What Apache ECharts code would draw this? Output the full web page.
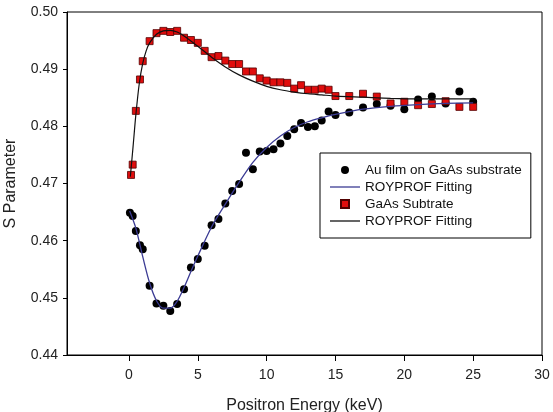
<!DOCTYPE html>
<html>
<head>
<meta charset="utf-8">
<script src="https://cdn.jsdelivr.net/npm/echarts@6/dist/echarts.min.js"></script>
<style>
  html, body { margin: 0; padding: 0; background: #fff; }
  #chart-container { width: 553px; height: 412px; }
</style>
</head>
<body>
<div id="chart-container"></div>
<script>
// Au film on GaAs substrate (measured)
var auEnergy = [0.07, 0.27, 0.5, 0.8, 1.0, 1.5, 2.0, 2.5, 3.0, 3.5, 4.0, 4.5, 5.0, 5.5, 6.0, 6.5, 7.0, 7.5, 8.0, 8.5, 9.0, 9.5, 10.0, 10.5, 11.0, 11.5, 12.0, 12.5, 13.0, 13.5, 14.0, 14.5, 15, 16, 17, 18, 19, 20, 21, 22, 23, 24, 25];
var auS = [0.4649, 0.4643, 0.4617, 0.4592, 0.4585, 0.4521, 0.4490, 0.4486, 0.4477, 0.4489, 0.4515, 0.4553, 0.4568, 0.4591, 0.4627, 0.4638, 0.4665, 0.4687, 0.4699, 0.4754, 0.4725, 0.4756, 0.4757, 0.4760, 0.4770, 0.4783, 0.4795, 0.4806, 0.4799, 0.4800, 0.4810, 0.4826, 0.4820, 0.4824, 0.4833, 0.4839, 0.4836, 0.4830, 0.4847, 0.4852, 0.4840, 0.4861, 0.4843];

// ROYPROF fit for the Au film
var auFitEnergy = [0.05, 0.5, 1.0, 1.5, 2.0, 2.5, 3.0, 3.5, 4.0, 4.5, 5.0, 6, 7, 8, 9, 10, 11, 12, 13, 14, 15, 17, 19, 21, 23, 25];
var auFitS = [0.4652, 0.4622, 0.4572, 0.4526, 0.4495, 0.4482, 0.4482, 0.4494, 0.4518, 0.4546, 0.4573, 0.4624, 0.4664, 0.4702, 0.4737, 0.4763, 0.4783, 0.4798, 0.4808, 0.4815, 0.4821, 0.4830, 0.4835, 0.4838, 0.4840, 0.4841];

// GaAs substrate (measured)
var gaasEnergy = [0.15, 0.27, 0.5, 0.8, 1.0, 1.5, 2.0, 2.5, 3.0, 3.5, 4.0, 4.5, 5.0, 5.5, 6.0, 6.5, 7.0, 7.5, 8.0, 8.5, 9.0, 9.5, 10.0, 10.5, 11.0, 11.5, 12.0, 12.5, 13.0, 13.5, 14.0, 14.5, 15, 16, 17, 18, 19, 20, 21, 22, 23, 24, 25];
var gaasS = [0.4715, 0.4733, 0.4827, 0.4882, 0.4914, 0.4949, 0.4963, 0.4967, 0.4965, 0.4967, 0.4955, 0.4951, 0.4946, 0.4932, 0.4921, 0.4923, 0.4915, 0.4909, 0.4909, 0.4896, 0.4896, 0.4884, 0.4880, 0.4877, 0.4877, 0.4876, 0.4866, 0.4872, 0.4864, 0.4864, 0.4866, 0.4864, 0.4853, 0.4853, 0.4857, 0.4852, 0.4840, 0.4843, 0.4837, 0.4839, 0.4844, 0.4834, 0.4834];

// ROYPROF fit for GaAs
var gaasFitEnergy = [0.1, 0.3, 0.5, 0.75, 1.0, 1.25, 1.5, 2.0, 2.5, 3.0, 3.5, 4, 5, 6, 7, 8, 9, 10, 11, 12, 13, 14, 15, 17, 19, 21, 23, 25];
var gaasFitS = [0.4712, 0.4765, 0.4820, 0.4875, 0.4910, 0.4932, 0.4946, 0.4961, 0.4967, 0.4968, 0.4965, 0.4958, 0.4940, 0.4921, 0.4904, 0.4890, 0.4879, 0.4870, 0.4864, 0.4860, 0.4857, 0.4855, 0.4853, 0.4851, 0.4849, 0.4848, 0.4848, 0.4848];

var xTicks = [0, 5, 10, 15, 20, 25, 30];

function pairs(xs, ys) {
    return xs.map(function (x, i) { return [x, ys[i]]; });
}

var myChart = echarts.init(document.getElementById('chart-container'));
var font = 'Liberation Sans, Arial, sans-serif';
// legend icons: a thin bar for the fits, a square for the GaAs points
var lineIcon = 'path://M0,0h30v1.3h-30z';
var squareIcon = 'path://M0,0h10v10h-10z';

var option = {
    backgroundColor: '#fff',
    animation: false,
    grid: {
        left: 67, right: 11, top: 12, bottom: 57,
        outerBoundsMode: 'none',
        show: true, borderColor: '#000', borderWidth: 1
    },
    legend: {
        orient: 'vertical',
        left: 320, top: 153,
        padding: [10, 9, 10, 10],
        itemWidth: 30, itemHeight: 8, itemGap: 3,
        borderColor: '#000', borderWidth: 1,
        backgroundColor: '#fff',
        textStyle: { fontFamily: font, fontSize: 13.5, color: '#111', lineHeight: 14 },
        data: [
            { name: 'Au film on GaAs substrate', icon: 'circle' },
            { name: 'ROYPROF Fitting', icon: lineIcon },
            { name: 'GaAs Subtrate', icon: squareIcon },
            { name: 'ROYPROF Fitting ', icon: lineIcon }
        ]
    },
    xAxis: {
        type: 'value', min: -4.5, max: 30,
        name: 'Positron Energy (keV)', nameLocation: 'middle', nameGap: 43,
        nameTextStyle: { fontFamily: font, fontSize: 16, color: '#222' },
        axisLine: { onZero: false, lineStyle: { color: '#000', width: 1 } },
        axisTick: { customValues: xTicks, length: 6, lineStyle: { color: '#000' } },
        axisLabel: { customValues: xTicks, margin: 13, fontFamily: font, fontSize: 14, color: '#222' },
        splitLine: { show: false }
    },
    yAxis: {
        type: 'value', min: 0.44, max: 0.50, interval: 0.01,
        name: 'S Parameter', nameLocation: 'middle', nameGap: 48,
        nameTextStyle: { fontFamily: font, fontSize: 16, color: '#222' },
        axisLine: { show: true, onZero: false, lineStyle: { color: '#000', width: 1 } },
        axisTick: { show: true, length: 4, lineStyle: { color: '#000' } },
        axisLabel: {
            margin: 9, fontFamily: font, fontSize: 14, color: '#222',
            formatter: function (v) { return v.toFixed(2); }
        },
        splitLine: { show: false }
    },
    series: [
        {
            name: 'Au film on GaAs substrate', type: 'scatter',
            symbol: 'circle', symbolSize: 8,
            itemStyle: { color: '#000', opacity: 1 },
            data: pairs(auEnergy, auS), z: 3
        },
        {
            name: 'ROYPROF Fitting', type: 'line', smooth: 0.3,
            symbol: 'none', showSymbol: false,
            lineStyle: { color: '#3b3b94', width: 1.3 },
            itemStyle: { color: '#3b3b94' },
            data: pairs(auFitEnergy, auFitS), z: 4
        },
        {
            name: 'GaAs Subtrate', type: 'scatter',
            symbol: 'rect', symbolSize: 7,
            itemStyle: { color: '#e00d0d', borderColor: '#500000', borderWidth: 0.8, opacity: 1 },
            data: pairs(gaasEnergy, gaasS), z: 3
        },
        {
            name: 'ROYPROF Fitting ', type: 'line', smooth: 0.3,
            symbol: 'none', showSymbol: false,
            lineStyle: { color: '#111', width: 1.2 },
            itemStyle: { color: '#111' },
            data: pairs(gaasFitEnergy, gaasFitS), z: 4
        }
    ]
};
myChart.setOption(option);
</script>
</body>
</html>
